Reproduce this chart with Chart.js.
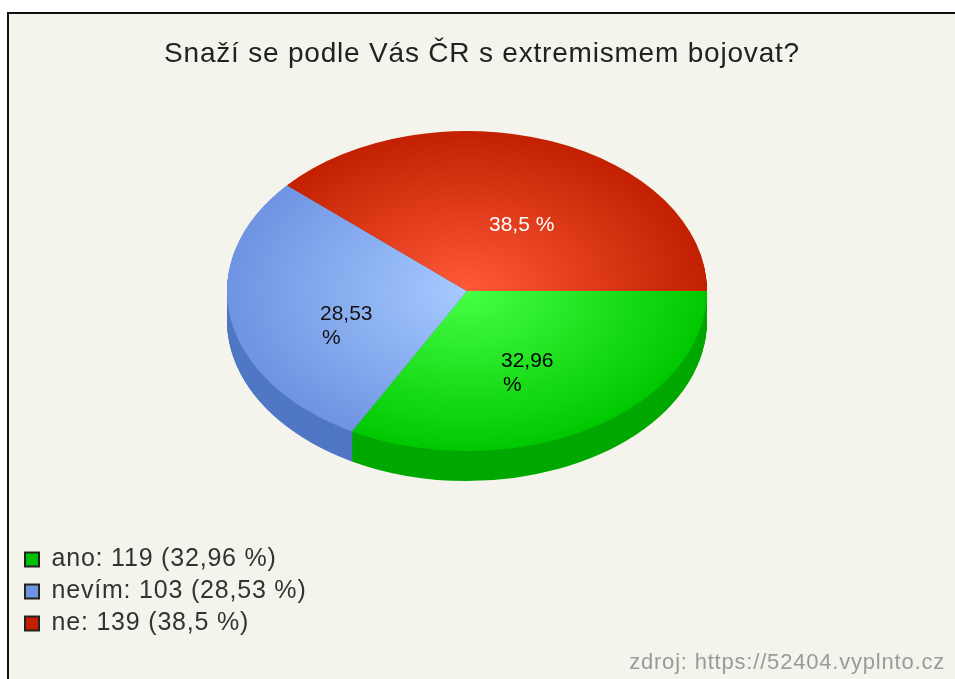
<!DOCTYPE html>
<html lang="cs">
  <head>
    <script src="https://cdn.jsdelivr.net/npm/chart.js"></script>
    <meta charset="UTF-8" />
    <title>Snaží se podle Vás ČR s extremismem bojovat?</title>
    <style>
      body {
        margin: 0;
        background: #fff;
        overflow: hidden;
      }
      .panel {
        position: absolute;
        left: 7px;
        top: 12px;
        width: 960px;
        height: 680px;
        background: #f4f4ec;
        border: 2px solid #111;
      }
      canvas {
        position: absolute;
        left: 0;
        top: 0;
        filter: blur(0.6px);
      }
    </style>
  </head>
  <body>
    <div class="panel"></div>
    <canvas id="pie" width="955" height="679"></canvas>

    <script>
      const categories = ["ano", "nevím", "ne"];
      const counts = [119, 103, 139];
      const percents = ["32,96", "28,53", "38,5"];
      const sliceLines = [["32,96", "%"], ["28,53", "%"], ["38,5 %"]];

      const topInner = ["#46ff46", "#a6caff", "#ff5a3a"];
      const topOuter = ["#00c800", "#6e94e2", "#c22000"];
      const sideColors = ["#00a800", "#5077c4", "#a01a00"];
      const swatchColors = ["#00c000", "#6e96e0", "#c42000"];
      const labelColors = ["#000", "#111", "#fff"];

      // pie is drawn round by chart.js, then stretched to an ellipse here
      const pieX = 467, pieY = 291, pieRadius = 160, stretch = 1.5, depth = 30;
      // left edge and first baseline of each slice label
      const labelSpots = [[501, 367], [320, 320], [489, 231]];
      const labelPitch = 24;
      // the reference text is loosely spaced
      const spacing = "0.8px";

      function faceGradient(c) {
        const area = c.chart.chartArea;
        if (!area) return topOuter[c.dataIndex];
        const x = (area.left + area.right) / 2;
        const y = (area.top + area.bottom) / 2;
        const g = c.chart.ctx.createRadialGradient(x, y, 0, x, y, pieRadius);
        g.addColorStop(0, topInner[c.dataIndex]);
        g.addColorStop(1, topOuter[c.dataIndex]);
        return g;
      }

      const pie3d = {
        id: "pie3d",
        // set before layout too, the legend measures its text there
        beforeLayout(chart) {
          chart.ctx.letterSpacing = spacing;
        },
        beforeDraw(chart) {
          chart.ctx.letterSpacing = spacing;
        },
        beforeDatasetDraw(chart) {
          const ctx = chart.ctx;
          const arcs = chart.getDatasetMeta(0).data;
          ctx.save();
          ctx.translate(pieX, pieY);
          ctx.scale(stretch, 1);
          ctx.translate(-arcs[0].x, -arcs[0].y);
          // side wall, one pixel row at a time from the bottom up
          for (let d = depth; d >= 1; d--) {
            arcs.forEach((arc, i) => {
              ctx.beginPath();
              ctx.moveTo(arc.x, arc.y + d);
              ctx.arc(arc.x, arc.y + d, pieRadius, arc.startAngle, arc.endAngle);
              ctx.closePath();
              ctx.fillStyle = sideColors[i];
              ctx.fill();
            });
          }
        },
        afterDatasetDraw(chart) {
          const ctx = chart.ctx;
          ctx.restore();
          ctx.save();
          ctx.letterSpacing = "0px";
          ctx.textBaseline = "alphabetic";
          ctx.font = "21px 'Liberation Sans'";
          ctx.textAlign = "left";
          sliceLines.forEach((lines, i) => {
            ctx.fillStyle = labelColors[i];
            lines.forEach((line, n) => {
              const nudge = n > 0 ? 2 : 0;
              ctx.fillText(line, labelSpots[i][0] + nudge, labelSpots[i][1] + n * labelPitch);
            });
          });
          ctx.letterSpacing = spacing;
          ctx.fillStyle = "#9a9a9a";
          ctx.font = "22px 'Liberation Sans'";
          ctx.textAlign = "right";
          ctx.fillText("zdroj: https://52404.vyplnto.cz", 945, 669);
          ctx.restore();
        }
      };

      new Chart(document.getElementById("pie"), {
        type: "pie",
        data: {
          labels: categories,
          datasets: [{
            data: counts,
            backgroundColor: faceGradient,
            borderWidth: 0,
            radius: pieRadius,
            clip: false
          }]
        },
        plugins: [pie3d],
        options: {
          responsive: false,
          animation: false,
          rotation: 90,
          layout: { padding: { left: 18, right: 9, top: 37, bottom: 36 } },
          plugins: {
            tooltip: { enabled: false },
            title: {
              display: true,
              text: "Snaží se podle Vás ČR s extremismem bojovat?",
              color: "#222",
              font: { family: "'Liberation Sans'", size: 28, weight: "normal" },
              padding: 0
            },
            legend: {
              position: "left",
              align: "end",
              labels: {
                color: "#333",
                font: { family: "'Liberation Sans'", size: 25 },
                boxWidth: 14,
                boxHeight: 14,
                padding: 7,
                generateLabels() {
                  return categories.map((name, i) => ({
                    text: name + ": " + counts[i] + " (" + percents[i] + " %)",
                    fillStyle: swatchColors[i],
                    strokeStyle: "#222",
                    fontColor: "#333",
                    lineWidth: 2,
                    index: i
                  }));
                }
              }
            }
          }
        }
      });
    </script>
  </body>
</html>
